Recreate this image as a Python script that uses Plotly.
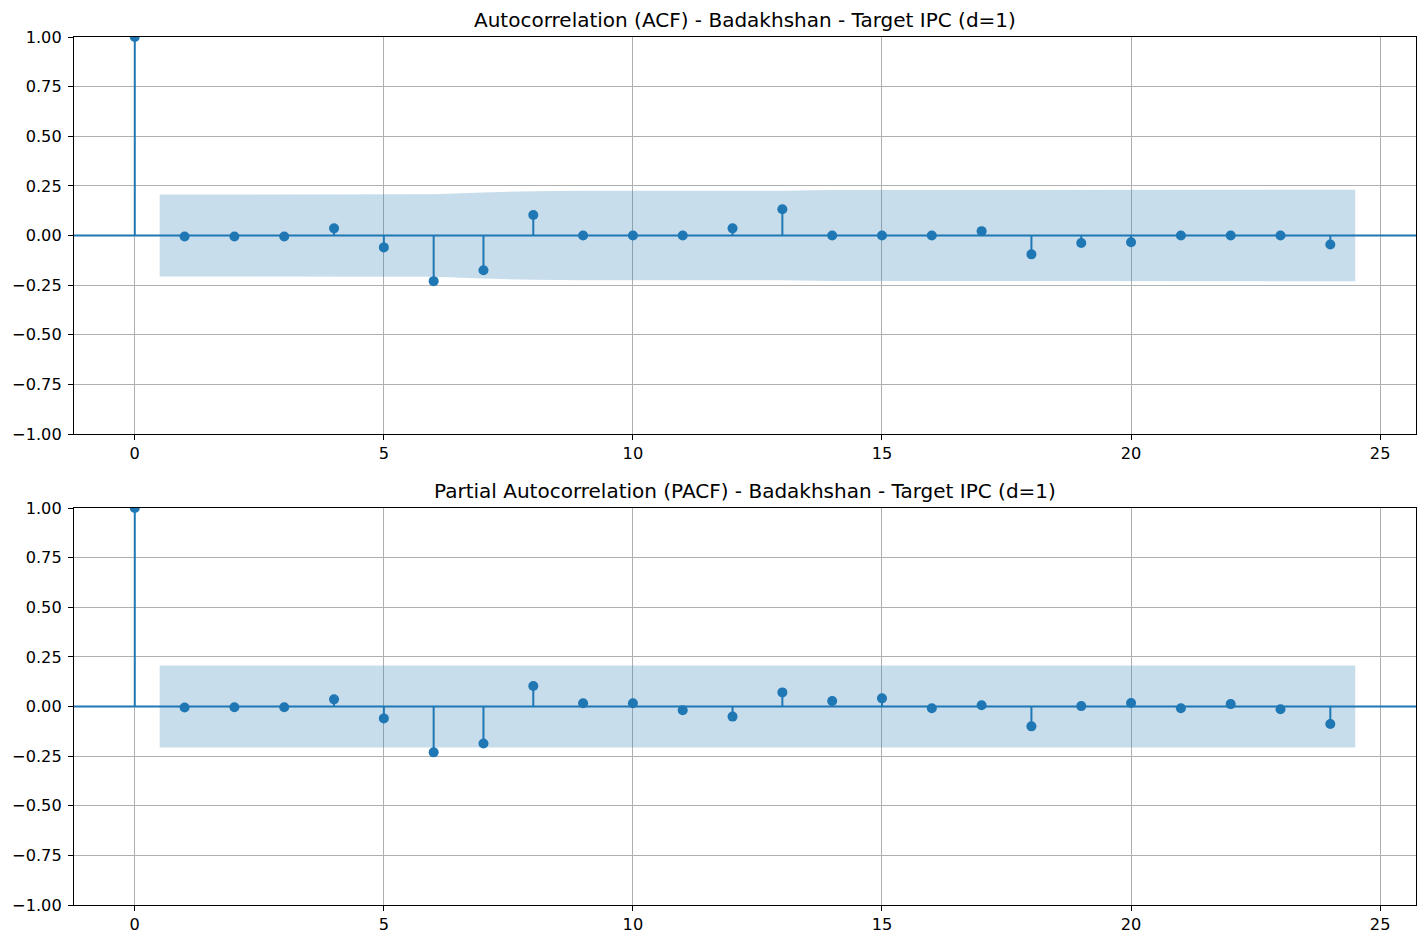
import plotly.graph_objects as go
from plotly.subplots import make_subplots

# lags and values
lags = list(range(0, 25))
acf_vals = [1.0, -0.005, -0.005, -0.005, 0.036, -0.06, -0.23, -0.175, 0.103, 0.0, 0.0, 0.0, 0.036,
            0.132, 0.0, 0.0, 0.0, 0.022, -0.095, -0.038, -0.034, 0.0, 0.0, 0.0, -0.045]
pacf_vals = [1.0, -0.005, -0.004, -0.004, 0.036, -0.06, -0.231, -0.186, 0.103, 0.016, 0.016, -0.019, -0.051,
             0.071, 0.028, 0.041, -0.009, 0.006, -0.1, 0.002, 0.018, -0.009, 0.012, -0.014, -0.088]
# half-width of the 95% confidence band for lags 1..24
acf_conf = [0.206, 0.206, 0.206, 0.206, 0.207, 0.208, 0.217, 0.223, 0.225, 0.225, 0.225, 0.225,
            0.226, 0.229, 0.229, 0.229, 0.229, 0.229, 0.230, 0.230, 0.230, 0.230, 0.230, 0.231]
pacf_conf = [0.206] * 24
titles = ["Autocorrelation (ACF) - Badakhshan - Target IPC (d=1)",
          "Partial Autocorrelation (PACF) - Badakhshan - Target IPC (d=1)"]
y_ticks = [-1.0, -0.75, -0.5, -0.25, 0.0, 0.25, 0.5, 0.75, 1.0]

BLUE = '#1f77b4'
BAND = 'rgba(31,119,180,0.25)'
GRID = '#b0b0b0'
FONT = 'DejaVu Sans'

fig = make_subplots(rows=2, cols=1)


def add_corr(fig, vals, conf, row):
    # confidence band (statsmodels style: first/last lag pushed out by half a step)
    band_x = list(lags[1:])
    band_x[0] -= 0.5
    band_x[-1] += 0.5
    fig.add_trace(go.Scatter(x=band_x, y=[-c for c in conf], mode='lines', line=dict(width=0),
                             hoverinfo='skip', showlegend=False), row=row, col=1)
    fig.add_trace(go.Scatter(x=band_x, y=conf, mode='lines', line=dict(width=0), fill='tonexty',
                             fillcolor=BAND, hoverinfo='skip', showlegend=False), row=row, col=1)
    # stems
    sx, sy = [], []
    for l, v in zip(lags, vals):
        sx += [l, l, None]
        sy += [0, v, None]
    fig.add_trace(go.Scatter(x=sx, y=sy, mode='lines', line=dict(color=BLUE, width=2),
                             showlegend=False, hoverinfo='skip'), row=row, col=1)
    fig.add_trace(go.Scatter(x=lags, y=vals, mode='markers', marker=dict(color=BLUE, size=10),
                             showlegend=False), row=row, col=1)


add_corr(fig, acf_vals, acf_conf, 1)
add_corr(fig, pacf_vals, pacf_conf, 2)

# the page body has an 8px margin, so the figure is a bit smaller than the window
W, H = 1411, 931
ml, mr, mt, mb = 66, 3, 29, 34
plot_h = H - mt - mb
# pixel rows of the axes in the window: top 37-434, bottom 508-905
top_dom = [(905 - 434) / plot_h, 1.0]
bot_dom = [0.0, (905 - 508) / plot_h]

axis_common = dict(showline=True, linecolor='black', linewidth=1.1, mirror=True,
                   showgrid=True, gridcolor=GRID, gridwidth=1.1, zeroline=False,
                   ticks='outside', ticklen=5, tickwidth=1.1, tickcolor='black',
                   tickfont=dict(family=FONT, size=16.2, color='black'))

for i, dom in zip([1, 2], [top_dom, bot_dom]):
    fig.update_xaxes(axis_common, range=[-1.22, 25.72], tickvals=[0, 5, 10, 15, 20, 25], row=i, col=1)
    fig.update_yaxes(axis_common, range=[-1, 1], tickvals=y_ticks, tickformat='.2f',
                     ticklabelstandoff=3, domain=dom, row=i, col=1)

# zero lines across the full axis width
for yref, xref in [('y', 'x domain'), ('y2', 'x2 domain')]:
    fig.add_shape(type='line', xref=xref, yref=yref, x0=0, x1=1, y0=0, y1=0,
                  line=dict(color=BLUE, width=2), layer='above')

for t, dom in zip(titles, [top_dom, bot_dom]):
    fig.add_annotation(text=t, xref='paper', yref='paper', x=0.5, y=dom[1], yshift=3,
                       xanchor='center', yanchor='bottom', showarrow=False,
                       font=dict(family=FONT, size=20, color='black'))

fig.update_layout(width=W, height=H, margin=dict(l=ml, r=mr, t=mt, b=mb),
                  plot_bgcolor='white', paper_bgcolor='white', showlegend=False,
                  font=dict(family=FONT))

fig.write_html("out.html")
